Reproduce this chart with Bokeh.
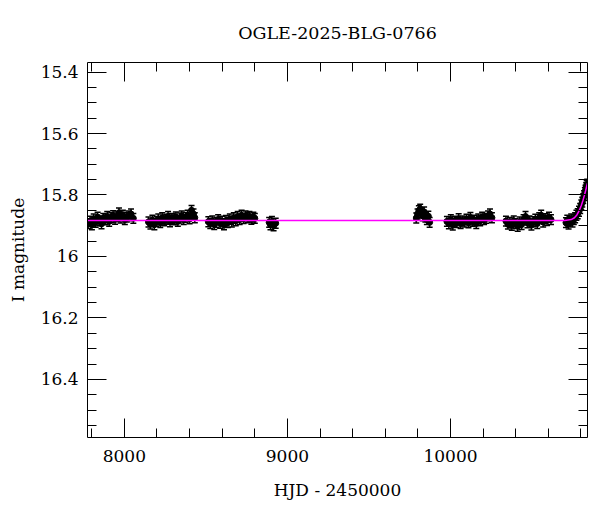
from bokeh.plotting import figure
from bokeh.models import Range1d, FixedTicker, LinearAxis, Whisker, TeeHead, ColumnDataSource, CustomJSTickFormatter
from bokeh.embed import file_html
from bokeh.resources import INLINE
import numpy as np

title_text = "OGLE-2025-BLG-0766"
x_label = "HJD - 2450000"
y_label = "I magnitude"

x_major = [8000, 9000, 10000]
y_major = [15.4, 15.6, 15.8, 16.0, 16.2, 16.4]

t1 = [7778, 7790, 7801, 7812, 7824, 7836, 7848, 7860, 7871, 7883, 7895, 7907, 7919, 7931, 7943, 7955, 7967, 7979, 7991, 8003, 8015, 8028, 8041, 8055]
m1 = [15.893, 15.885, 15.897, 15.878, 15.889, 15.872, 15.884, 15.894, 15.876, 15.881, 15.870, 15.886, 15.874, 15.867, 15.879, 15.871, 15.858, 15.875, 15.866, 15.880, 15.872, 15.868, 15.862, 15.876]
t2 = [8148, 8160, 8172, 8184, 8196, 8208, 8220, 8232, 8244, 8256, 8268, 8280, 8292, 8304, 8316, 8328, 8340, 8352, 8364, 8376, 8388, 8400, 8412, 8424, 8432]
m2 = [15.888, 15.895, 15.882, 15.897, 15.886, 15.878, 15.890, 15.874, 15.884, 15.879, 15.870, 15.887, 15.876, 15.881, 15.871, 15.886, 15.875, 15.868, 15.880, 15.873, 15.866, 15.878, 15.850, 15.862, 15.874]
t3 = [8515, 8527, 8539, 8551, 8563, 8575, 8587, 8599, 8611, 8623, 8635, 8647, 8659, 8671, 8683, 8695, 8707, 8719, 8731, 8743, 8755, 8767, 8779, 8791, 8800]
m3 = [15.887, 15.893, 15.884, 15.896, 15.889, 15.880, 15.892, 15.885, 15.897, 15.883, 15.890, 15.878, 15.888, 15.874, 15.884, 15.870, 15.880, 15.866, 15.877, 15.868, 15.874, 15.870, 15.879, 15.872, 15.876]
t4 = [8888, 8896, 8905, 8915, 8928]
m4 = [15.889, 15.897, 15.886, 15.900, 15.892]
t5 = [9790, 9798, 9806, 9814, 9822, 9830, 9838, 9846, 9855, 9864, 9872]
m5 = [15.875, 15.862, 15.851, 15.846, 15.858, 15.868, 15.855, 15.872, 15.880, 15.869, 15.889]
t6 = [9978, 9990, 10002, 10014, 10026, 10038, 10050, 10062, 10074, 10086, 10098, 10110, 10122, 10134, 10146, 10158, 10170, 10182, 10194, 10206, 10218, 10230, 10242, 10254]
m6 = [15.886, 15.894, 15.880, 15.898, 15.885, 15.890, 15.877, 15.893, 15.884, 15.888, 15.879, 15.891, 15.873, 15.886, 15.882, 15.893, 15.878, 15.884, 15.872, 15.880, 15.876, 15.868, 15.862, 15.874]
t7 = [10340, 10352, 10364, 10376, 10388, 10400, 10412, 10424, 10436, 10448, 10460, 10472, 10484, 10496, 10508, 10520, 10532, 10544, 10556, 10568, 10580, 10592, 10604, 10616]
m7 = [15.885, 15.895, 15.889, 15.899, 15.884, 15.893, 15.902, 15.888, 15.896, 15.880, 15.870, 15.891, 15.884, 15.898, 15.887, 15.879, 15.893, 15.874, 15.866, 15.888, 15.877, 15.883, 15.872, 15.880]
t8 = [10708, 10716, 10724, 10732, 10740, 10748, 10756, 10764, 10772, 10780, 10788, 10795, 10802, 10808, 10814, 10819, 10824, 10828, 10832, 10835, 10838]
m8 = [15.890, 15.882, 15.895, 15.885, 15.878, 15.888, 15.880, 15.874, 15.866, 15.861, 15.853, 15.844, 15.832, 15.823, 15.812, 15.802, 15.792, 15.784, 15.776, 15.770, 15.765]
err = 0.016

model_t = [7775, 10700, 10740, 10760, 10775, 10790, 10802, 10812, 10820, 10828, 10834, 10840]
model_m = [15.883, 15.883, 15.880, 15.874, 15.865, 15.850, 15.834, 15.818, 15.803, 15.787, 15.774, 15.762]

t = t1 + t2 + t3 + t4 + t5 + t6 + t7 + t8
m = m1 + m2 + m3 + m4 + m5 + m6 + m7 + m8
src = ColumnDataSource(dict(t=t, m=m, lo=[v - err for v in m], hi=[v + err for v in m]))

FONT = "DejaVu Serif"

p = figure(width=600, height=512, output_backend="svg", toolbar_location=None,
           x_range=Range1d(7774, 10840), y_range=Range1d(16.589, 15.369),
           min_border_left=87, min_border_right=13, min_border_top=62, min_border_bottom=75,
           x_axis_location=None, y_axis_location=None)
p.grid.visible = False
p.outline_line_color = None
p.background_fill_color = "white"
p.border_fill_color = "white"

xt = FixedTicker(ticks=x_major, minor_ticks=list(np.arange(7800, 10900, 200)))
yt = FixedTicker(ticks=y_major, minor_ticks=list(np.round(np.arange(15.35, 16.6, 0.05), 2)))
yfmt = CustomJSTickFormatter(code="return (Math.round(tick*10)/10).toString();")

def style(ax, labels=True):
    ax.major_tick_in = 19
    ax.major_tick_out = 0
    ax.minor_tick_in = 9
    ax.minor_tick_out = 0
    ax.axis_line_color = "black"
    ax.major_tick_line_color = "black"
    ax.minor_tick_line_color = "black"
    ax.major_label_text_font = FONT
    ax.major_label_text_font_size = "17px"
    ax.major_label_text_color = "black"
    ax.axis_label_text_font = FONT
    ax.axis_label_text_font_size = "17px"
    ax.axis_label_text_font_style = "normal"
    ax.axis_label_text_color = "black"
    if not labels:
        ax.major_label_text_font_size = "0px"
        ax.major_label_text_alpha = 0
        ax.major_label_standoff = 0

bx = LinearAxis(ticker=xt, axis_label=x_label)
style(bx)
bx.major_label_standoff = 12
bx.axis_label_standoff = 15
p.add_layout(bx, "below")

# top axis: mirrored ticks, its axis label serves as the chart title
tx = LinearAxis(ticker=xt, axis_label=title_text)
style(tx, False)
tx.axis_label_text_font_size = "17.5px"
tx.axis_label_standoff = 20
p.add_layout(tx, "above")

ly = LinearAxis(ticker=yt, axis_label=y_label, formatter=yfmt)
style(ly)
ly.major_label_standoff = 9
ly.axis_label_standoff = 10
p.add_layout(ly, "left")
ry = LinearAxis(ticker=yt)
style(ry, False)
p.add_layout(ry, "right")

w = Whisker(base="t", lower="lo", upper="hi", source=src, dimension="height",
            line_color="black", line_width=1.5,
            upper_head=TeeHead(size=6, line_color="black", line_width=1.5),
            lower_head=TeeHead(size=6, line_color="black", line_width=1.5))
p.add_layout(w)
p.scatter("t", "m", source=src, size=6, color="black")
p.line(model_t, model_m, line_color="#ff00ff", line_width=1.5)

open("out.html", "w").write(file_html(p, INLINE))
